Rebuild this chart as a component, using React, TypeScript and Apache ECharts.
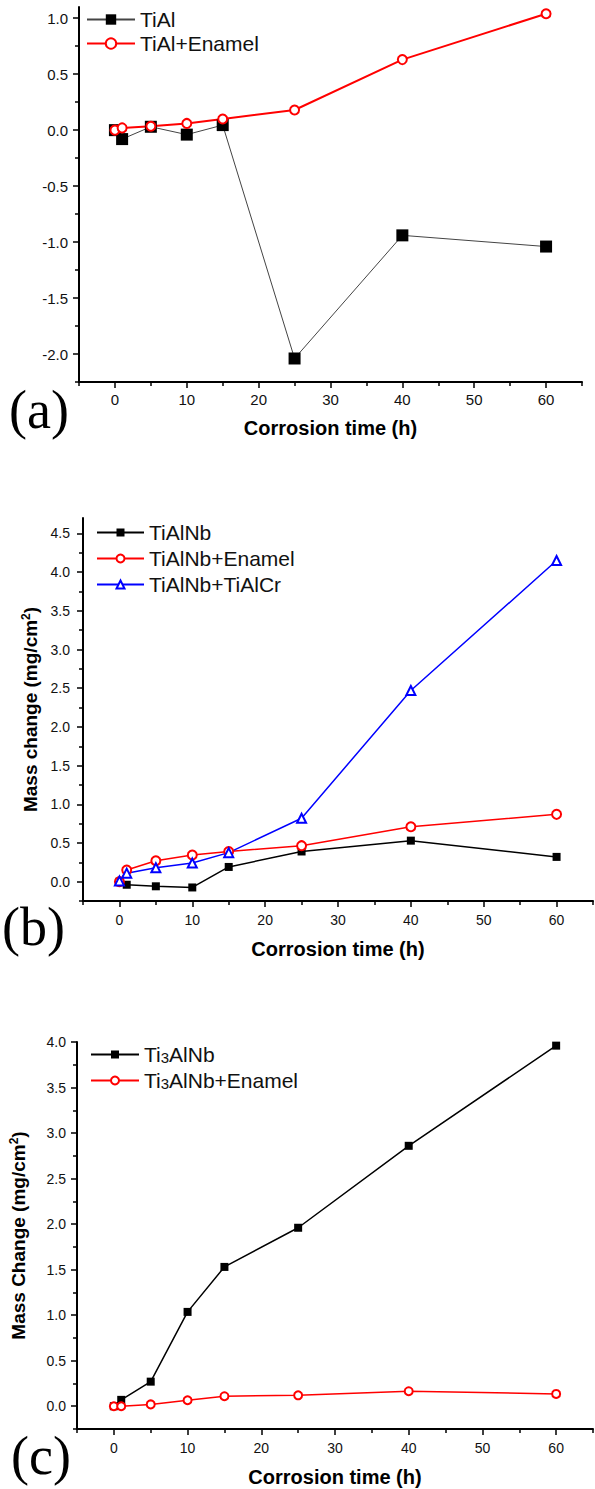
import React, { useEffect, useRef } from 'react';
import * as echarts from 'echarts';

// Corrosion time (h)
const hours = [0, 1, 5, 10, 15, 25, 40, 60];

// Panel (a)
const tiAl = [0.0, -0.08, 0.03, -0.04, 0.045, -2.04, -0.94, -1.04];
const tiAlEnamel = [0.0, 0.02, 0.035, 0.06, 0.1, 0.18, 0.63, 1.04];

// Panel (b)
const tiAlNb = [0.0, -0.04, -0.06, -0.075, 0.19, 0.39, 0.53, 0.32];
const tiAlNbEnamel = [0.0, 0.15, 0.27, 0.345, 0.39, 0.465, 0.71, 0.87];
const tiAlNbTiAlCr = [0.01, 0.11, 0.18, 0.24, 0.375, 0.82, 2.47, 4.15];

// Panel (c)
const ti3AlNb = [0.0, 0.07, 0.27, 1.036, 1.53, 1.96, 2.86, 3.96];
const ti3AlNbEnamel = [0.0, 0.0, 0.02, 0.066, 0.11, 0.12, 0.165, 0.135];

// Tick values
const xMajor = [0, 10, 20, 30, 40, 50, 60];
const xMinor = [-5, 5, 15, 25, 35, 45, 55, 65];
const yMajorA = [-2.0, -1.5, -1.0, -0.5, 0.0, 0.5, 1.0];
const yMinorA = [-2.25, -1.75, -1.25, -0.75, -0.25, 0.25, 0.75];
const yMajorB = [0.0, 0.5, 1.0, 1.5, 2.0, 2.5, 3.0, 3.5, 4.0, 4.5];
const yMinorB = [-0.25, 0.25, 0.75, 1.25, 1.75, 2.25, 2.75, 3.25, 3.75, 4.25];
const yMajorC = [0.0, 0.5, 1.0, 1.5, 2.0, 2.5, 3.0, 3.5, 4.0];
const yMinorC = [-0.25, 0.25, 0.75, 1.25, 1.75, 2.25, 2.75, 3.25, 3.75];

const SANS = '"Liberation Sans", Arial, Helvetica, sans-serif';
const SERIF = '"Liberation Serif", "Times New Roman", serif';

const pairs = (ys: number[]) => hours.map((h, i) => [h, ys[i]]);

function xAxes(gridIndex: number, labelSize: number, labelMargin: number, nameGap: number) {
  return [
    {
      gridIndex,
      type: 'value',
      position: 'bottom',
      min: -5,
      max: 65,
      axisLine: { show: true, onZero: false, lineStyle: { color: '#000', width: 2 } },
      axisTick: { show: true, customValues: xMajor, length: 6, lineStyle: { color: '#000', width: 1.5 } },
      axisLabel: {
        show: true,
        customValues: xMajor,
        formatter: (v: number) => String(v),
        fontSize: labelSize,
        fontFamily: SANS,
        color: '#111',
        margin: labelMargin,
      },
      splitLine: { show: false },
      name: 'Corrosion time (h)',
      nameLocation: 'middle',
      nameGap,
      nameTextStyle: { fontSize: 20, fontWeight: 'bold', fontFamily: SANS, color: '#000' },
    },
    {
      gridIndex,
      type: 'value',
      position: 'bottom',
      min: -5,
      max: 65,
      axisLine: { show: false, onZero: false },
      axisTick: { show: true, customValues: xMinor, length: 4, lineStyle: { color: '#000', width: 1.5 } },
      axisLabel: { show: false },
      splitLine: { show: false },
    },
  ];
}

function yAxes(
  gridIndex: number,
  min: number,
  max: number,
  major: number[],
  minor: number[],
  labelSize: number,
  labelMargin: number,
  name: string,
  nameGap: number
) {
  return [
    {
      gridIndex,
      type: 'value',
      position: 'left',
      min,
      max,
      axisLine: { show: true, onZero: false, lineStyle: { color: '#000', width: 2 } },
      axisTick: { show: true, customValues: major, length: 6, lineStyle: { color: '#000', width: 1.5 } },
      axisLabel: {
        show: true,
        customValues: major,
        formatter: (v: number) => v.toFixed(1),
        fontSize: labelSize,
        fontFamily: SANS,
        color: '#111',
        margin: labelMargin,
      },
      splitLine: { show: false },
      name,
      nameLocation: 'middle',
      nameGap,
      nameRotate: 90,
      nameTextStyle: {
        fontSize: 19,
        fontWeight: 'bold',
        fontFamily: SANS,
        color: '#000',
        rich: {
          sup: { fontSize: 12, fontWeight: 'bold', fontFamily: SANS, color: '#000', verticalAlign: 'top', padding: [0, 0, 8, 0] },
        },
      },
    },
    {
      gridIndex,
      type: 'value',
      position: 'left',
      min,
      max,
      axisLine: { show: false, onZero: false },
      axisTick: { show: true, customValues: minor, length: 4, lineStyle: { color: '#000', width: 1.5 } },
      axisLabel: { show: false },
      splitLine: { show: false },
    },
  ];
}

function lineSeries(
  name: string,
  ys: number[],
  axisIndex: number,
  color: string,
  lineColor: string,
  lineWidth: number,
  symbol: string,
  symbolSize: number
) {
  return {
    name,
    type: 'line',
    xAxisIndex: axisIndex,
    yAxisIndex: axisIndex,
    data: pairs(ys),
    symbol,
    symbolSize,
    showSymbol: true,
    showAllSymbol: true,
    lineStyle: { color: lineColor, width: lineWidth },
    itemStyle: { color, borderColor: color, borderWidth: symbol === 'rect' ? 0 : 1.2 },
    emphasis: { disabled: true },
  };
}

function legend(names: string[], left: number, top: number, itemWidth: number, itemHeight: number, itemGap: number) {
  return {
    data: names,
    orient: 'vertical',
    left,
    top,
    padding: 0,
    itemWidth,
    itemHeight,
    itemGap,
    selectedMode: false,
    formatter: (n: string) => n.replace('Ti3', 'Ti{s|3}'),
    textStyle: {
      fontSize: 21,
      lineHeight: 21,
      fontFamily: SANS,
      color: '#111',
      rich: { s: { fontSize: 15, lineHeight: 21, fontFamily: SANS, color: '#111', verticalAlign: 'bottom', padding: [3, 0, 0, 0] } },
    },
  };
}

const option = {
  animation: false,
  backgroundColor: '#fff',
  grid: [
    { left: 79, top: 7, width: 503, height: 375 },
    { left: 83, top: 518, width: 510, height: 383 },
    { left: 74, top: 1042, width: 519, height: 387 },
  ],
  xAxis: [...xAxes(0, 15, 10, 36), ...xAxes(1, 14, 12, 38), ...xAxes(2, 14, 12, 38)],
  yAxis: [
    ...yAxes(0, -2.25, 1.1, yMajorA, yMinorA, 15, 11, '', 40),
    ...yAxes(1, -0.25, 4.7, yMajorB, yMinorB, 14, 13, 'Mass change (mg/cm{sup|2})', 43),
    ...yAxes(2, -0.25, 4.0, yMajorC, yMinorC, 14, 11, 'Mass Change (mg/cm{sup|2})', 49),
  ],
  legend: [
    legend(['TiAl', 'TiAl+Enamel'], 86, 9, 48, 13, 3),
    legend(['TiAlNb', 'TiAlNb+Enamel', 'TiAlNb+TiAlCr'], 96, 522, 47, 10, 5),
    legend(['Ti3AlNb', 'Ti3AlNb+Enamel'], 90, 1044, 48, 10, 5),
  ],
  series: [
    lineSeries('TiAl', tiAl, 0, '#000', '#444', 1, 'rect', 12),
    lineSeries('TiAl+Enamel', tiAlEnamel, 0, '#ff0000', '#ff0000', 2, 'emptyCircle', 9),
    lineSeries('TiAlNb', tiAlNb, 2, '#000', '#000', 1.5, 'rect', 8),
    lineSeries('TiAlNb+Enamel', tiAlNbEnamel, 2, '#ff0000', '#ff0000', 1.5, 'emptyCircle', 9),
    lineSeries('TiAlNb+TiAlCr', tiAlNbTiAlCr, 2, '#0000ff', '#0000ff', 1.5, 'emptyTriangle', 9),
    lineSeries('Ti3AlNb', ti3AlNb, 4, '#000', '#000', 1.5, 'rect', 8),
    lineSeries('Ti3AlNb+Enamel', ti3AlNbEnamel, 4, '#ff0000', '#ff0000', 1.5, 'emptyCircle', 8),
  ],
  graphic: [
    { type: 'text', x: 9, y: 410, style: { text: '(a)', fontSize: 54, fontFamily: SERIF, fill: '#000', verticalAlign: 'middle' } },
    { type: 'text', x: 2, y: 927, style: { text: '(b)', fontSize: 54, fontFamily: SERIF, fill: '#000', verticalAlign: 'middle' } },
    { type: 'text', x: 11, y: 1456, style: { text: '(c)', fontSize: 54, fontFamily: SERIF, fill: '#000', verticalAlign: 'middle' } },
  ],
};

export default function App() {
  const ref = useRef<HTMLDivElement>(null);
  useEffect(() => {
    document.body.style.margin = '0';
    const chart = echarts.init(ref.current as HTMLDivElement, null, { renderer: 'svg' });
    chart.setOption(option as any);
    return () => {
      chart.dispose();
    };
  }, []);
  return <div ref={ref} style={{ width: 595, height: 1489 }} />;
}
